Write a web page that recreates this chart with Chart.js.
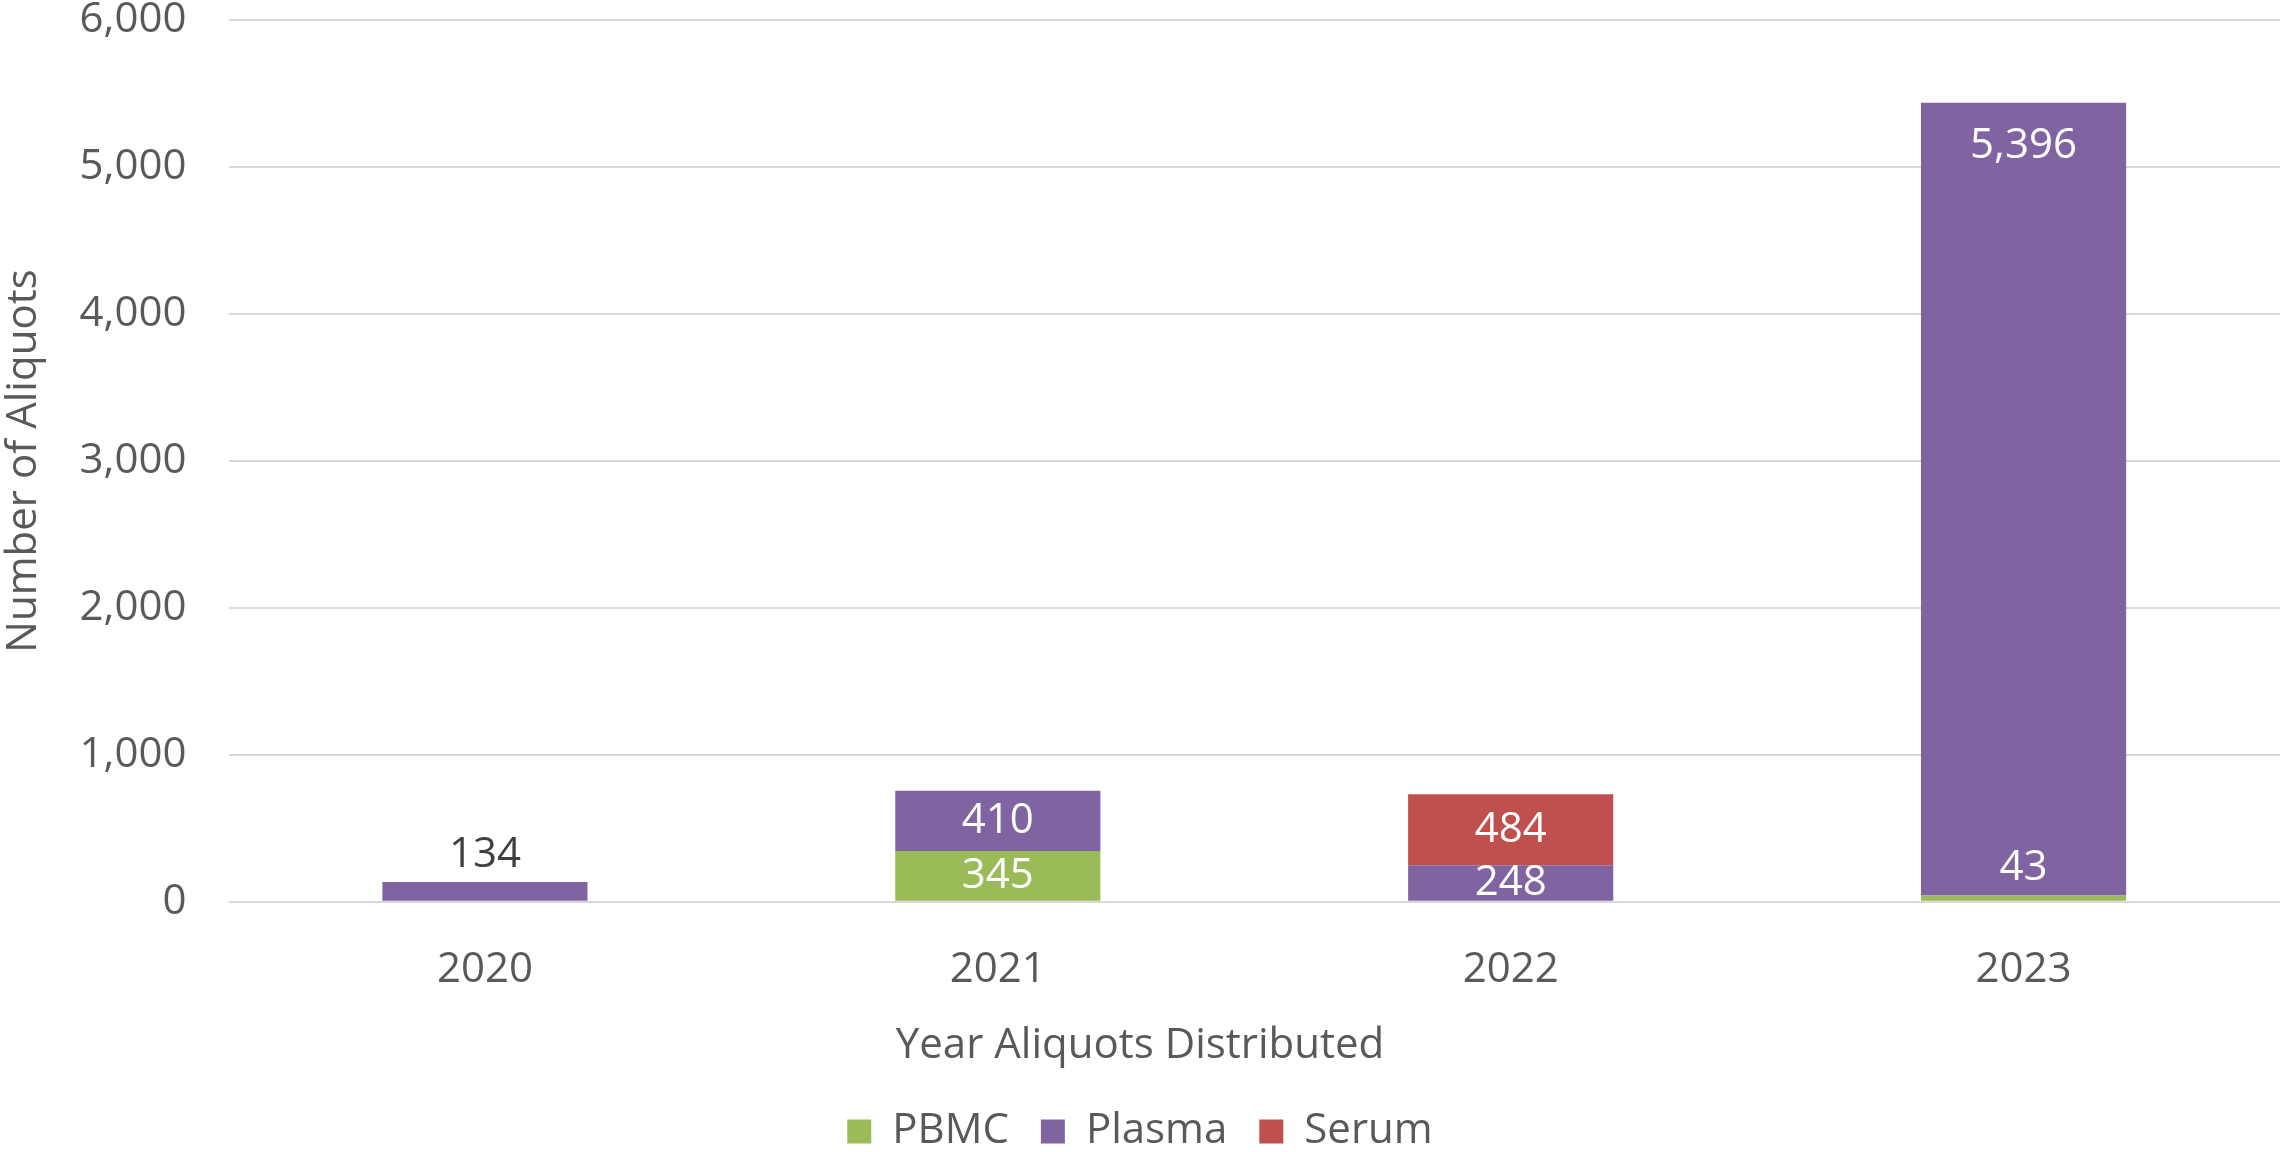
<!DOCTYPE html>
<html>
<head>
<meta charset="utf-8">
<script src="https://cdn.jsdelivr.net/npm/chart.js@4/dist/chart.umd.min.js"></script>
<style>
  html, body { margin: 0; padding: 0; background: #fff; }
  #wrap { width: 2280px; height: 1152px; position: relative; }
</style>
</head>
<body>
<div id="wrap"><canvas id="chart"></canvas></div>
<script>
const years = ["2020", "2021", "2022", "2023"];
const pbmc = [0, 345, 0, 43];
const plasma = [134, 410, 248, 5396];
const serum = [0, 0, 484, 0];
const yTicks = [0, 1000, 2000, 3000, 4000, 5000, 6000];

const FONT = "'Open Sans', sans-serif";
const TEXT = "#595959";

// draws the value labels, centred in each segment unless told otherwise
const barLabels = {
  id: "barLabels",
  afterDatasetsDraw(chart, args, opts) {
    const ctx = chart.ctx;
    ctx.save();
    ctx.font = `${opts.size}px ${FONT}`;
    ctx.textAlign = "center";
    ctx.textBaseline = "middle";
    chart.data.datasets.forEach((ds, di) => {
      const meta = chart.getDatasetMeta(di);
      meta.data.forEach((bar, i) => {
        const v = ds.data[i];
        if (!v) return;
        const anchor = (ds.labelAnchor && ds.labelAnchor[i]) || "center";
        const { x, y, base } = bar.getProps(["x", "y", "base"], true);
        let ty;
        let color = opts.color;
        if (anchor === "outside") {
          ty = y - opts.outside;
          const covered = chart.data.datasets.slice(di + 1).some(d => d.data[i] > 0);
          if (!covered) color = opts.outsideColor;
        } else if (anchor === "insideEnd") {
          ty = y + opts.inside;
        } else {
          ty = (y + base) / 2;
        }
        ctx.fillStyle = color;
        ctx.fillText(v.toLocaleString("en-US"), x, ty);
      });
    });
    ctx.restore();
  },
};

new Chart(document.getElementById("chart"), {
  type: "bar",
  data: {
    labels: years,
    datasets: [
      { label: "PBMC", data: pbmc, backgroundColor: "#9BBB59",
        labelAnchor: [null, "center", null, "outside"] },
      { label: "Plasma", data: plasma, backgroundColor: "#8064A2",
        labelAnchor: ["outside", "center", "center", "insideEnd"] },
      { label: "Serum", data: serum, backgroundColor: "#C0504D" },
    ],
  },
  options: {
    responsive: true,
    maintainAspectRatio: false,
    animation: false,
    layout: { padding: { top: 0, left: 0, right: 0, bottom: -10.5 } },
    datasets: { bar: { categoryPercentage: 1, barPercentage: 0.4, borderWidth: 0 } },
    scales: {
      x: {
        stacked: true,
        // tick marks kept invisible, their length gives the gap under the axis
        grid: { display: false, drawTicks: true, tickLength: 43, tickColor: "rgba(0,0,0,0)" },
        border: { display: false },
        ticks: { color: TEXT, padding: 0, font: { family: FONT, size: 42 } },
      },
      y: {
        stacked: true,
        min: 0, max: 6000,
        afterBuildTicks: s => { s.ticks = yTicks.map(v => ({ value: v })); },
        afterFit: s => { s.width = 228.5; },
        grid: { color: "#D9D9D9", lineWidth: 2, drawTicks: true, tickLength: 42, tickColor: "rgba(0,0,0,0)" },
        border: { display: false },
        ticks: { color: TEXT, padding: 0, font: { family: FONT, size: 42, lineHeight: 0.97 } },
        title: {
          display: true, text: "Number of Aliquots", color: TEXT,
          padding: { top: 3, bottom: 0 }, font: { family: FONT, size: 42, lineHeight: 1 },
        },
      },
    },
    plugins: {
      tooltip: { enabled: false },
      // x axis title: centred on the whole chart, sits between axis and legend
      title: {
        display: true, position: "bottom", weight: 500,
        text: "Year Aliquots Distributed", color: TEXT,
        padding: { top: 26, bottom: 7 },
        font: { family: FONT, size: 42, weight: "normal" },
      },
      legend: {
        position: "bottom", weight: 1000,
        labels: { color: TEXT, boxWidth: 24, boxHeight: 24, padding: 32, font: { family: FONT, size: 42 } },
      },
      barLabels: { size: 42, color: "#FFFFFF", outsideColor: "#404040", outside: 27, inside: 43 },
    },
  },
  plugins: [barLabels],
});
</script>
</body>
</html>
